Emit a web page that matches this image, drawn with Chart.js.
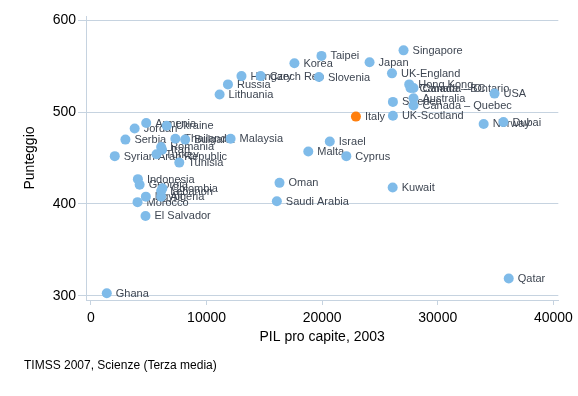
<!DOCTYPE html>
<html>
<head>
<meta charset="utf-8">
<script src="https://cdn.jsdelivr.net/npm/chart.js@4"></script>
<style>
html,body{margin:0;padding:0;background:#fff;}
#wrap{width:578px;height:396px;}
</style>
</head>
<body>
<div id="wrap"><canvas id="c" width="578" height="396"></canvas></div>
<script>
const countries = ["Ghana","Qatar","Singapore","Japan","Taipei","Korea","Slovenia","Czech Rep","Hungary","Russia","Lithuania","Italy","UK-England","Hong Kong","Canada – BC","Canada – Ontario","USA","Australia","Sweden","Canada – Quebec","UK-Scotland","Norway","Dubai","Armenia","Jordan","Ukraine","Serbia","Thailand","Bulgaria","Malaysia","Romania","Iran","Turkey","Syrian Arab Republic","Tunisia","Indonesia","Georgia","Colombia","Lebanon","Algeria","Egypt","Morocco","El Salvador","Oman","Saudi Arabia","Israel","Malta","Cyprus","Kuwait"];
const gdp = [1370,36140,27040,24100,19940,17600,19720,14680,13020,11850,11130,22920,26040,27530,27640,27900,34910,27900,26120,27900,26120,33970,35680,4780,3780,6550,2980,7300,8150,12080,6070,6150,5670,2060,7640,4060,4210,6180,6070,6070,4750,4030,4720,16310,16080,20660,18800,22090,26100];
const scores = [303,319,567,554,561,553,538,539,539,530,519,495,542,530,526,526,520,515,511,507,496,487,489,488,482,485,470,471,470,471,462,459,454,452,445,427,421,417,414,408,408,402,387,423,403,468,457,452,418];
const xTicks = [0,10000,20000,30000,40000];
const yTicks = [300,400,500,600];
const highlight = "Italy";
const xTitle = "PIL pro capite, 2003";
const yTitle = "Punteggio";
const footnote = "TIMSS 2007, Scienze (Terza media)";

const FONT = "'Liberation Sans', Arial, sans-serif";
const BLUE = "#7fbbe9";
const ORANGE = "#ff7f0e";
const GRID = "#c6d3e0";

const points = gdp.map((x, i) => ({x: x, y: scores[i]}));

const labelPlugin = {
  id: 'pointLabels',
  beforeDatasetsDraw(chart) {
    const ctx = chart.ctx;
    const meta = chart.getDatasetMeta(0);
    ctx.save();
    ctx.font = "11px " + FONT;
    ctx.fillStyle = "#3e4652";
    ctx.textBaseline = "middle";
    ctx.textAlign = "left";
    meta.data.forEach((el, i) => {
      ctx.fillText(countries[i], el.x + 9, el.y + 0.5);
    });
    ctx.restore();
  },
  afterDraw(chart) {
    const ctx = chart.ctx;
    ctx.save();
    ctx.font = "12px " + FONT;
    ctx.fillStyle = "#000";
    ctx.textBaseline = "middle";
    ctx.textAlign = "left";
    ctx.fillText(footnote, 24, 366);
    ctx.restore();
  }
};

new Chart(document.getElementById('c'), {
  type: 'scatter',
  data: {
    datasets: [{
      data: points,
      pointRadius: 5,
      pointHoverRadius: 5,
      pointBorderWidth: 0,
      backgroundColor: (c) => countries[c.dataIndex] === highlight ? ORANGE : BLUE,
      borderColor: (c) => countries[c.dataIndex] === highlight ? ORANGE : BLUE
    }]
  },
  options: {
    responsive: false,
    animation: false,
    layout: {padding: {left: 0, right: 16, top: 16, bottom: 40}},
    plugins: {
      legend: {display: false},
      tooltip: {enabled: false}
    },
    scales: {
      x: {
        type: 'linear',
        min: -429,
        max: 40429,
        afterBuildTicks: (s) => { s.ticks = xTicks.map(v => ({value: v})); },
        afterFit: (s) => { s.height = 56; },
        grid: {drawOnChartArea: false, drawTicks: true, tickLength: 5, color: GRID},
        border: {display: true, color: GRID},
        ticks: {color: "#000", font: {family: FONT, size: 14}, padding: 5, maxRotation: 0, autoSkip: false, callback: (v) => String(v)},
        title: {display: true, text: xTitle, color: "#000", font: {family: FONT, size: 14}, padding: {top: 2, bottom: 10}}
      },
      y: {
        type: 'linear',
        min: 295.65,
        max: 604.35,
        afterBuildTicks: (s) => { s.ticks = yTicks.map(v => ({value: v})); },
        afterFit: (s) => { s.width = 86; },
        grid: {drawOnChartArea: true, drawTicks: true, tickLength: 8, color: GRID},
        border: {display: true, color: GRID},
        ticks: {color: "#000", font: {family: FONT, size: 14}, padding: 2, callback: (v) => String(v)},
        title: {display: true, text: yTitle, color: "#000", font: {family: FONT, size: 14}, padding: {top: 22, bottom: 0}}
      }
    }
  },
  plugins: [labelPlugin]
});
</script>
</body>
</html>
